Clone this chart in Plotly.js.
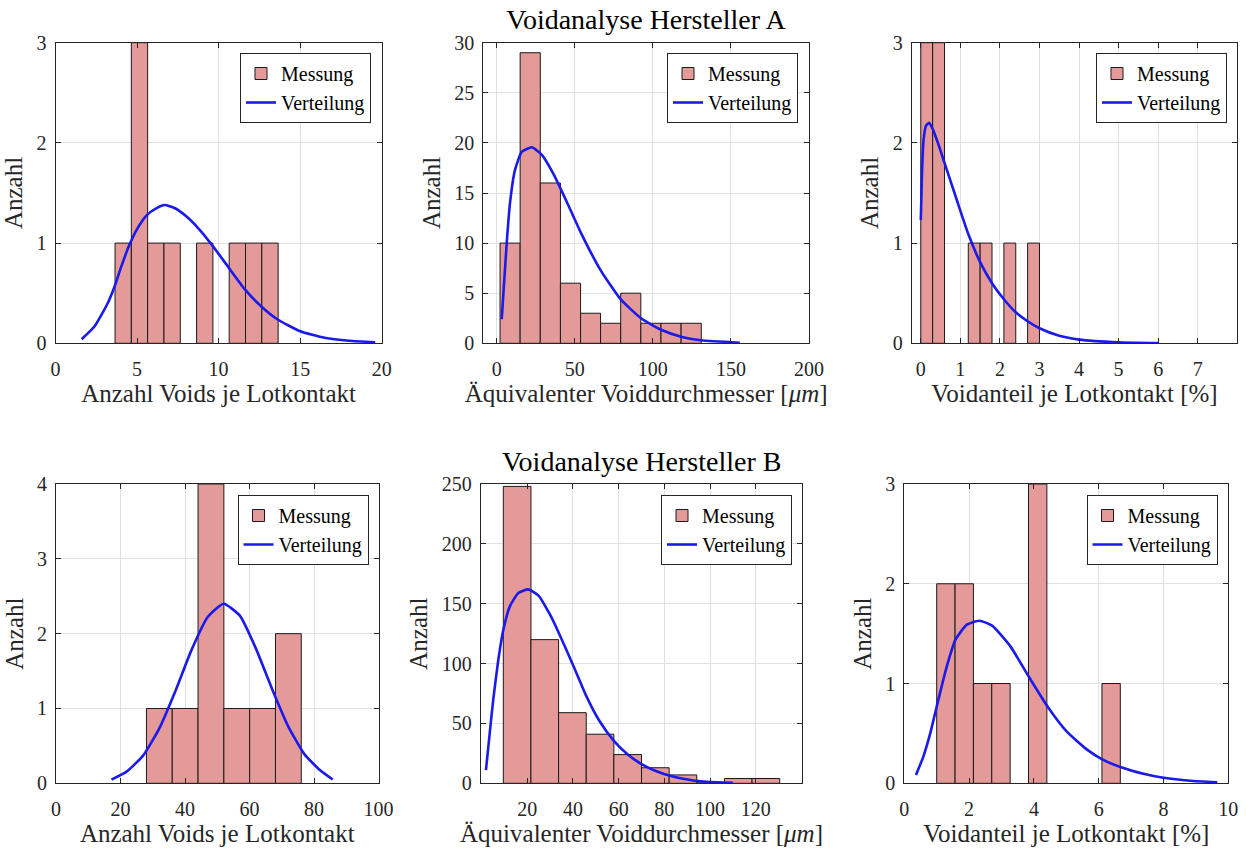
<!DOCTYPE html>
<html><head><meta charset="utf-8">
<script src="https://cdn.plot.ly/plotly-3.0.1.min.js"></script>
<style>html,body{margin:0;padding:0;background:#fff}</style>
</head><body><div id="chart" style="width:1247px;height:848px"></div>
<script>
// ---------- Data ----------
// Hersteller A
const a1Edges  = [3.65, 4.65, 5.65, 6.65, 7.65, 8.65, 9.65, 10.65, 11.65, 12.65, 13.65];
const a1Counts = [1, 3, 1, 1, 0, 1, 0, 1, 1, 1];
const a1CurveX = [1.6, 2.4, 3.2, 3.65, 4.0, 4.5, 5.0, 5.6, 6.2, 6.7, 7.3, 8.0, 8.8, 9.6, 10.6, 11.6, 12.6, 13.6, 15.0, 16.5, 18.0, 19.6];
const a1CurveY = [0.04, 0.17, 0.40, 0.58, 0.75, 0.97, 1.14, 1.28, 1.35, 1.38, 1.35, 1.27, 1.14, 0.98, 0.76, 0.54, 0.37, 0.24, 0.12, 0.055, 0.025, 0.01];

const a2Edges  = [2.12, 15.0, 27.9, 40.8, 53.7, 66.5, 79.4, 92.3, 105.2, 118.1, 131.0];
const a2Counts = [10, 29, 16, 6, 3, 2, 5, 2, 2, 2];
const a2CurveX = [3.2, 4.7, 6.4, 8.5, 11.7, 16.0, 22.5, 28.9, 36.3, 44.9, 53.7, 66.5, 79.3, 92.4, 105.3, 118.1, 130.9, 155.7];
const a2CurveY = [2.4, 6.0, 10.0, 14.0, 17.3, 19.1, 19.56, 18.8, 16.9, 14.1, 11.1, 7.3, 4.4, 2.5, 1.35, 0.65, 0.3, 0.06];

const a3Edges  = [0, 0.3, 0.6, 0.9, 1.2, 1.5, 1.8, 2.1, 2.4, 2.7, 3.0];
const a3Counts = [3, 3, 0, 0, 1, 1, 0, 1, 0, 1];
const a3CurveX = [0, 0.03, 0.07, 0.13, 0.21, 0.3, 0.45, 0.6, 0.91, 1.21, 1.5, 1.8, 2.1, 2.4, 2.7, 3.0, 3.5, 4.0, 5.0, 6.0];
const a3CurveY = [1.23, 1.7, 2.03, 2.17, 2.2, 2.14, 1.98, 1.8, 1.43, 1.08, 0.81, 0.6, 0.44, 0.31, 0.22, 0.15, 0.075, 0.037, 0.01, 0.002];

// Hersteller B
const b1Edges  = [28.05, 36.05, 44.05, 52.05, 60.05, 68.05, 76.05];
const b1Counts = [1, 1, 4, 1, 1, 2];
const b1CurveX = [17.2, 22, 27, 32, 37, 42, 47, 52, 57, 62, 67, 72, 77, 82, 85.8];
const b1CurveY = [0.05, 0.16, 0.37, 0.73, 1.23, 1.78, 2.22, 2.4, 2.24, 1.8, 1.26, 0.76, 0.39, 0.17, 0.05];

const b2Edges  = [9.5, 21.6, 33.7, 45.8, 57.9, 70.0, 82.1, 94.2, 106.3, 118.4, 130.5];
const b2Counts = [248, 120, 59, 41, 24, 13, 7, 1, 4, 4];
const b2CurveX = [1.9, 3.4, 5.1, 7.3, 9.5, 12.4, 16.1, 20.4, 24.8, 29.9, 33.7, 40.2, 45.8, 51.6, 57.9, 64, 70, 76, 82.1, 88.3, 97, 110];
const b2CurveY = [11, 39, 70, 103, 128, 148, 159, 162, 157, 141, 126, 98, 73, 52, 35.5, 24, 16, 10.5, 6.5, 3.8, 1.5, 0.4];

const b3Edges  = [1.0, 1.567, 2.133, 2.7, 3.267, 3.833, 4.4, 4.967, 5.533, 6.1, 6.667];
const b3Counts = [2, 2, 1, 1, 0, 3, 0, 0, 0, 1];
const b3CurveX = [0.36, 0.59, 0.8, 1.0, 1.31, 1.58, 1.93, 2.32, 2.71, 3.28, 3.84, 4.42, 5.01, 5.63, 6.11, 6.69, 7.38, 8.0, 8.82, 9.66];
const b3CurveY = [0.083, 0.27, 0.5, 0.77, 1.17, 1.44, 1.59, 1.63, 1.58, 1.37, 1.07, 0.77, 0.52, 0.34, 0.24, 0.16, 0.095, 0.055, 0.025, 0.01];

// Text
const titleA = 'Voidanalyse Hersteller A';
const titleB = 'Voidanalyse Hersteller B';
const labelCount = 'Anzahl Voids je Lotkontakt';
const labelDiam = 'Äquivalenter Voiddurchmesser [<i>μm</i>]';
const labelShare = 'Voidanteil je Lotkontakt [%]';
const labelY = 'Anzahl';
const nameBar = 'Messung';
const nameLine = 'Verteilung';

// ---------- Build ----------
const W = 1247, H = 848;
const F = 'Liberation Serif, Times New Roman, serif';
const TXT = '#262626';
const BARCOL = 'rgb(229,154,154)';
const LINECOL = 'rgb(26,26,235)';

const panels = [
  {edges:a1Edges, counts:a1Counts, cx:a1CurveX, cy:a1CurveY, xl:labelCount, xr:[0,20], xt:[0,5,10,15,20], yr:[0,3], yt:[0,1,2,3], px:[55.5,381.7], py:[42.7,343.3], leg:[371,53]},
  {edges:a2Edges, counts:a2Counts, cx:a2CurveX, cy:a2CurveY, xl:labelDiam, xr:[-8.6,200], xt:[0,50,100,150,200], yr:[0,30], yt:[0,5,10,15,20,25,30], px:[483.3,809], py:[42.7,343.3], leg:[798,53]},
  {edges:a3Edges, counts:a3Counts, cx:a3CurveX, cy:a3CurveY, xl:labelShare, xr:[-0.23,8], xt:[0,1,2,3,4,5,6,7], yr:[0,3], yt:[0,1,2,3], px:[911.7,1237.3], py:[42.7,343.3], leg:[1227,53]},
  {edges:b1Edges, counts:b1Counts, cx:b1CurveX, cy:b1CurveY, xl:labelCount, xr:[0,100], xt:[0,20,40,60,80,100], yr:[0,4], yt:[0,1,2,3,4], px:[56,378.5], py:[484,783.3], leg:[368.5,495]},
  {edges:b2Edges, counts:b2Counts, cx:b2CurveX, cy:b2CurveY, xl:labelDiam, xr:[-0.4,140.4], xt:[20,40,60,80,100,120], yr:[0,250], yt:[0,50,100,150,200,250], px:[480.7,802.3], py:[484,783.3], leg:[792,495]},
  {edges:b3Edges, counts:b3Counts, cx:b3CurveX, cy:b3CurveY, xl:labelShare, xr:[0,10], xt:[0,2,4,6,8,10], yr:[0,3], yt:[0,1,2,3], px:[904.3,1228.3], py:[484,783.3], leg:[1217.5,495]}
];

const data = [];
const layout = {
  width: W, height: H,
  margin: {l:0, r:0, t:0, b:0},
  paper_bgcolor: '#fff', plot_bgcolor: '#fff',
  barmode: 'overlay',
  hovermode: false,
  font: {family: F, color: TXT},
  title: {text: titleA, x: 646/W, xanchor: 'center', y: 1 - 19/H, yanchor: 'middle', font: {family: F, size: 28, color: '#000'}},
  annotations: [
    {text: titleB, xref: 'paper', yref: 'paper', x: 641.5/W, y: 1 - 461/H, xanchor: 'center', yanchor: 'middle', showarrow: false, font: {family: F, size: 28, color: '#000'}}
  ]
};

panels.forEach((p, i) => {
  const k = i + 1;
  const xa = 'xaxis' + (k === 1 ? '' : k), ya = 'yaxis' + (k === 1 ? '' : k);
  const xr = 'x' + (k === 1 ? '' : k), yr = 'y' + (k === 1 ? '' : k);
  const lg = 'legend' + (k === 1 ? '' : k);
  const centers = [], widths = [], heights = [];
  for (let j = 0; j < p.counts.length; j++) {
    centers.push((p.edges[j] + p.edges[j + 1]) / 2);
    widths.push(p.edges[j + 1] - p.edges[j]);
    heights.push(p.counts[j] === 0 ? null : p.counts[j]);
  }
  data.push({type: 'bar', x: centers, y: heights, width: widths, name: nameBar, xaxis: xr, yaxis: yr, legend: lg,
    marker: {color: BARCOL, line: {color: '#1a1a1a', width: 1}}});
  data.push({type: 'scatter', mode: 'lines', x: p.cx, y: p.cy, name: nameLine, xaxis: xr, yaxis: yr, legend: lg,
    line: {color: LINECOL, width: 2.6, shape: 'spline', smoothing: 0.5}});
  const common = {showline: true, linecolor: TXT, linewidth: 1, mirror: 'ticks', ticks: 'inside', ticklen: 5,
    tickcolor: TXT, showgrid: true, gridcolor: '#e1e1e1', gridwidth: 1, zeroline: false,
    tickfont: {family: F, size: 20, color: TXT}, fixedrange: true};
  layout[xa] = Object.assign({}, common, {domain: [p.px[0]/W, p.px[1]/W], range: p.xr, tickmode: 'array', tickvals: p.xt,
    anchor: yr, ticklabelstandoff: 8,
    title: {text: p.xl, font: {family: F, size: 25, color: TXT}, standoff: 3}});
  layout[ya] = Object.assign({}, common, {domain: [1 - p.py[1]/H, 1 - p.py[0]/H], range: p.yr, tickmode: 'array', tickvals: p.yt,
    anchor: xr, ticklabelstandoff: 4,
    title: {text: labelY, font: {family: F, size: 25, color: TXT}, standoff: 6}});
  layout[lg] = {x: p.leg[0]/W, xanchor: 'right', y: 1 - p.leg[1]/H, yanchor: 'top', bgcolor: '#fff',
    bordercolor: TXT, borderwidth: 1, font: {family: F, size: 20, color: '#000'}, tracegroupgap: 0};
});

Plotly.newPlot('chart', data, layout, {displayModeBar: false, staticPlot: true});
</script>
</body></html>
